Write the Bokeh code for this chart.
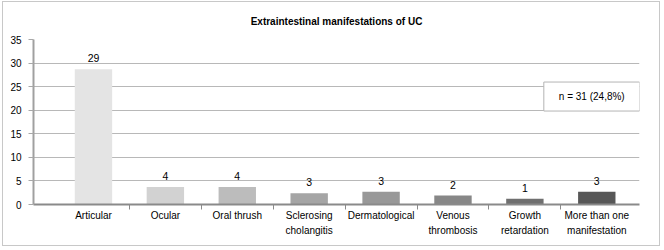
from bokeh.plotting import figure
from bokeh.models import Range1d, FixedTicker, LabelSet, Label, ColumnDataSource, Title
from bokeh.core.properties import value
from bokeh.embed import file_html
from bokeh.resources import INLINE

categories = ["Articular", "Ocular", "Oral thrush", "Sclerosing\ncholangitis",
              "Dermatological", "Venous\nthrombosis", "Growth\nretardation",
              "More than one\nmanifestation"]
bar_heights = [28.7, 3.7, 3.7, 2.4, 2.7, 1.9, 1.2, 2.7]
value_labels = ["29", "4", "4", "3", "3", "2", "1", "3"]
bar_colors = ["#e4e4e4", "#d2d2d2", "#bcbcbc", "#a5a5a5",
              "#989898", "#878787", "#6f6f6f", "#575757"]
y_ticks = [0, 5, 10, 15, 20, 25, 30, 35]
title_text = "Extraintestinal manifestations of UC"
note_text = "n = 31 (24,8%)"

FONT = "Liberation Sans, Arial, sans-serif"
xs = list(range(len(categories)))

src = ColumnDataSource(dict(x=xs, top=bar_heights, lab=value_labels, color=bar_colors))

p = figure(width=658, height=245, output_backend="svg", toolbar_location=None,
           x_range=Range1d(-0.834, len(categories) - 0.406), y_range=Range1d(0, 35),
           min_border_left=30, min_border_right=22, min_border_top=37, min_border_bottom=43)
p.styles = {"margin": "1px 2px 2px 2px", "border": "1px solid #c8c8c8"}
p.title = None

# spacer nearest the frame, then the real title above it
p.add_layout(Title(text=" ", text_font_size="5px", standoff=0), "above")
p.add_layout(Title(text=title_text, align="center", text_font=FONT, text_font_size="10px",
                   text_font_style="bold", text_color="#000000"), "above")

p.outline_line_color = None
p.background_fill_color = "white"
p.border_fill_color = "white"

p.vbar(x="x", top="top", width=0.52, bottom=0, fill_color="color", line_color=None, source=src)

labels = LabelSet(x="x", y="top", text="lab", source=src, text_align="center",
                  text_baseline="bottom", y_offset=7, text_font=value(FONT),
                  text_font_size=value("10.5px"), text_color="#000000")
p.add_layout(labels)

note = Label(x=6.93, y=22.9, text=note_text, text_align="center", text_baseline="middle",
             text_font=FONT, text_font_size="10px", text_color="#000000",
             border_line_color="#b4b4b4", border_line_width=1,
             background_fill_color="white",
             padding=dict(left=15, right=15, top=9, bottom=9))
p.add_layout(note)

# y axis
p.yaxis.ticker = FixedTicker(ticks=y_ticks)
p.yaxis.axis_line_color = "#a0a0a0"
p.yaxis.axis_line_width = 2
p.yaxis.major_tick_line_color = "#a8a8a8"
p.yaxis.major_tick_out = 5
p.yaxis.major_tick_in = 0
p.yaxis.minor_tick_line_color = None
p.yaxis.major_label_standoff = 7
p.yaxis.major_label_text_font = FONT
p.yaxis.major_label_text_font_size = "10px"
p.yaxis.major_label_text_color = "#000000"

# x axis
boundaries = [i + 0.5 for i in xs[:-1]]
p.xaxis.ticker = FixedTicker(ticks=xs, minor_ticks=boundaries)
p.xaxis.major_label_overrides = {i: c for i, c in zip(xs, categories)}
p.xaxis.axis_line_color = "#8a8a8a"
p.xaxis.axis_line_width = 2
p.xaxis.major_tick_line_color = None
p.xaxis.major_tick_out = 0
p.xaxis.major_tick_in = 0
p.xaxis.minor_tick_line_color = "#8a8a8a"
p.xaxis.minor_tick_out = 5
p.xaxis.minor_tick_in = 0
p.xaxis.major_label_standoff = 0
p.xaxis.major_label_text_font = FONT
p.xaxis.major_label_text_font_size = "10px"
p.xaxis.major_label_text_color = "#000000"
p.xaxis.major_label_text_line_height = 1.45

p.xgrid.grid_line_color = None
p.ygrid.grid_line_color = "#b8b8b8"
p.ygrid.grid_line_width = 1

open("out.html", "w").write(file_html(p, INLINE))
